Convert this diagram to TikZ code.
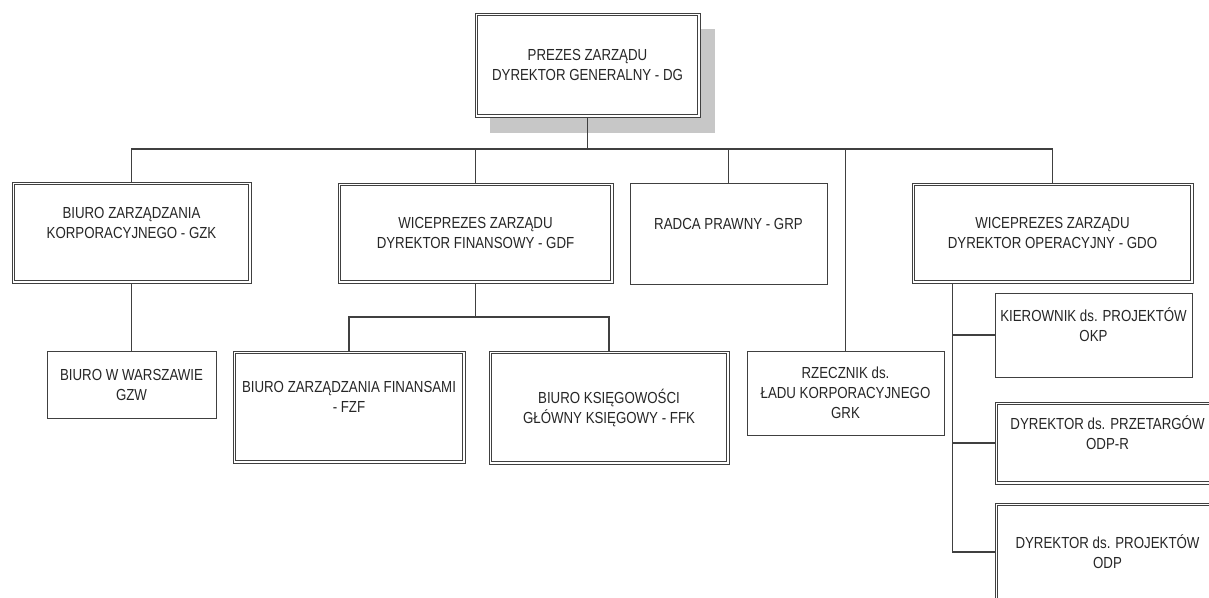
\documentclass[tikz,border=0pt]{standalone}
\usepackage{fontspec}
\setmainfont[FakeStretch=0.83]{Liberation Sans}
\usetikzlibrary{shadows}
\begin{document}
\begin{tikzpicture}[x=0.75pt,y=-0.75pt]
            \tikzstyle{unit}=[rectangle, draw=black!75, line width=0.6pt, fill=white, text=black!85, align=center, inner sep=2pt, font=\fontsize{12}{15}\selectfont]
            \tikzstyle{inner}=[draw=black!75, line width=0.6pt]
            \tikzstyle{conn}=[draw=black!75, line width=0.8pt]
            \useasboundingbox (0,0) rectangle (1209,597);
            % zarzad
            \node[unit, minimum width=168.75pt, minimum height=78pt, drop shadow={shadow xshift=11.25pt, shadow yshift=-12pt, fill=black!22, opacity=1}] (dg) at (587.5,65) {PREZES ZARZĄDU\\DYREKTOR GENERALNY - DG};
            % pierwszy poziom
            \node[unit, minimum width=179.25pt, minimum height=75.75pt] (gzk) at (131.5,232.5) {BIURO ZARZĄDZANIA\\KORPORACYJNEGO - GZK\\~};
            \node[unit, minimum width=206.25pt, minimum height=75pt] (gdf) at (475.5,233) {WICEPREZES ZARZĄDU\\DYREKTOR FINANSOWY - GDF};
            \node[unit, minimum width=147.75pt, minimum height=75.75pt] (grp) at (728.5,233.5) {RADCA PRAWNY - GRP\\~};
            \node[unit, minimum width=210.75pt, minimum height=75pt] (gdo) at (1052.5,233) {WICEPREZES ZARZĄDU\\DYREKTOR OPERACYJNY - GDO};
            % drugi poziom
            \node[unit, minimum width=126.75pt, minimum height=50.25pt] (gzw) at (131.5,384.5) {BIURO W WARSZAWIE\\GZW};
            \node[unit, minimum width=174pt, minimum height=84pt] (fzf) at (349,407) {BIURO ZARZĄDZANIA FINANSAMI\\- FZF\\~};
            \node[unit, minimum width=180pt, minimum height=84.75pt] (ffk) at (609,407.5) {BIURO KSIĘGOWOŚCI\\GŁÓWNY KSIĘGOWY - FFK};
            \node[unit, minimum width=147.75pt, minimum height=63pt] (grk) at (845.5,393) {RZECZNIK ds.\\ŁADU KORPORACYJNEGO\\GRK};
            \node[unit, minimum width=147.75pt, minimum height=63pt] (okp) at (1093.5,335) {KIEROWNIK ds. PROJEKTÓW\\OKP\\~};
            \node[unit, minimum width=168.75pt, minimum height=61.5pt] (odpr) at (1107.5,443) {DYREKTOR ds. PRZETARGÓW\\ODP-R\\~};
            \node[unit, minimum width=168.75pt, minimum height=73.5pt] (odp) at (1107.5,552) {DYREKTOR ds. PROJEKTÓW\\ODP};
            % podwojne ramki
            \foreach \n in {dg,gzk,gdf,gdo,fzf,ffk,odpr,odp}
                \draw[inner] ([shift={(3,3)}]\n.north west) rectangle ([shift={(-3,-3)}]\n.south east);
            % linie
            \coordinate (bus) at (587.5,149);
            \coordinate (fin) at (475.5,317);
            \coordinate (gdoTap) at ([xshift=30.75pt]gdo.south west);
            \draw[conn] (dg) -- (bus);
            \draw[conn] (gzk.north) |- (bus) -| (gdo.north);
            \draw[conn] (gdf.north) -- (gdf.north |- bus);
            \draw[conn] (grp.north) -- (grp.north |- bus);
            \draw[conn] (grk.north) -- (grk.north |- bus);
            \draw[conn] (gzk.south) -- (gzw.north);
            \draw[conn] (gdf.south) -- (fin);
            \draw[conn] (fzf.north) |- (fin) -| (ffk.north);
            \draw[conn] (gdoTap) |- (odp.west);
            \draw[conn] (gdoTap |- okp.west) -- (okp.west);
            \draw[conn] (gdoTap |- odpr.west) -- (odpr.west);
        \end{tikzpicture}
\end{document}
